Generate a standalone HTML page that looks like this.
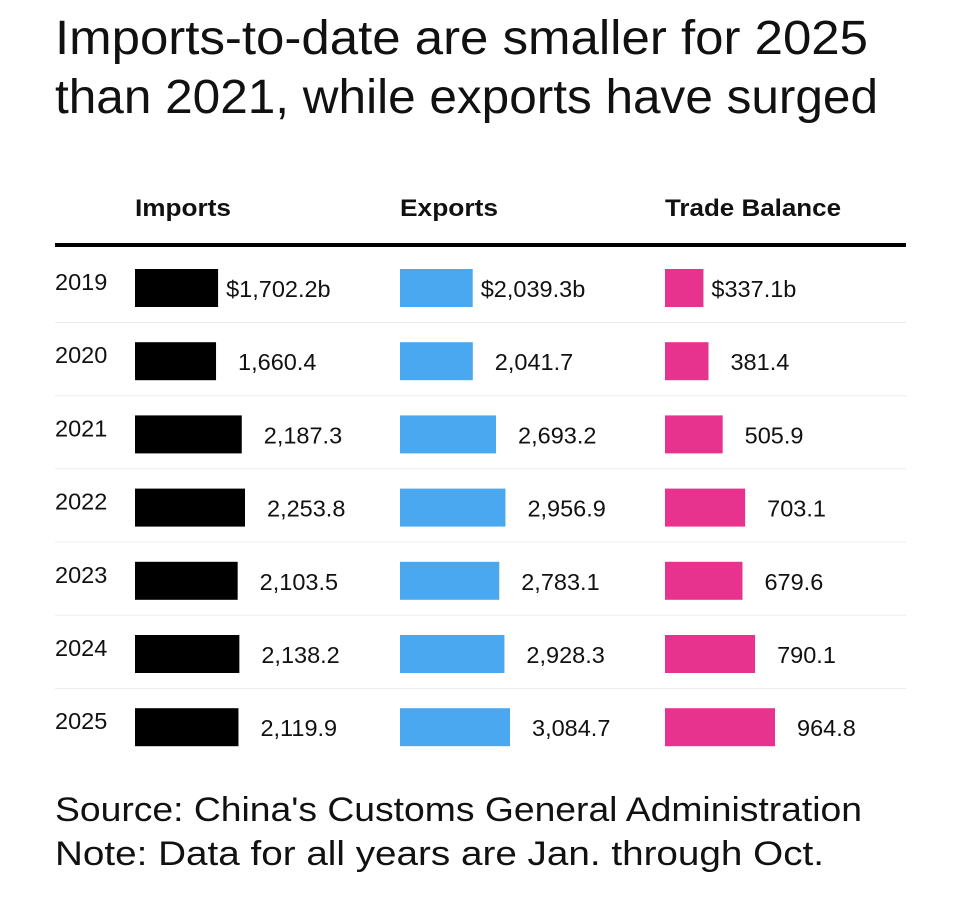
<!DOCTYPE html>
<html><head><meta charset="utf-8">
<style>
html,body{margin:0;padding:0;background:#fff;}
body{width:960px;height:892px;overflow:hidden;font-family:"Liberation Sans",Arial,sans-serif;}
</style></head>
<body>
<svg id="chart" width="960" height="892" xmlns="http://www.w3.org/2000/svg" font-family="Liberation Sans, Arial, sans-serif">
<text x="55" y="54" font-size="48" fill="#111" textLength="813" lengthAdjust="spacingAndGlyphs">Imports-to-date are smaller for 2025</text>
<text x="55" y="113" font-size="48" fill="#111" textLength="823" lengthAdjust="spacingAndGlyphs">than 2021, while exports have surged</text>
<text x="135" y="216" font-size="24" font-weight="bold" fill="#111" textLength="96" lengthAdjust="spacingAndGlyphs">Imports</text>
<text x="400" y="216" font-size="24" font-weight="bold" fill="#111" textLength="98" lengthAdjust="spacingAndGlyphs">Exports</text>
<text x="665" y="216" font-size="24" font-weight="bold" fill="#111" textLength="176" lengthAdjust="spacingAndGlyphs">Trade Balance</text>
<rect x="55" y="243" width="851" height="4" fill="#000"/>
<g id="rows"></g>
<text x="55" y="821" font-size="34" fill="#111" textLength="807" lengthAdjust="spacingAndGlyphs">Source: China's Customs General Administration</text>
<text x="55" y="865" font-size="34" fill="#111" textLength="769" lengthAdjust="spacingAndGlyphs">Note: Data for all years are Jan. through Oct.</text>
</svg>
<script>
const years = ["2019","2020","2021","2022","2023","2024","2025"];
const imports = [1702.2,1660.4,2187.3,2253.8,2103.5,2138.2,2119.9];
const exportsV = [2039.3,2041.7,2693.2,2956.9,2783.1,2928.3,3084.7];
const balance = [337.1,381.4,505.9,703.1,679.6,790.1,964.8];

const svg = document.getElementById('rows');
const NS = 'http://www.w3.org/2000/svg';
const cols = [
  {name:'imports', vals:imports, x0:135, color:'#000'},
  {name:'exports', vals:exportsV, x0:400, color:'#4aa8f0'},
  {name:'balance', vals:balance, x0:665, color:'#e8338e'}
];
const maxW = 110, rowH = 73.2, top0 = 288;
function fmt(v){return v.toLocaleString('en-US',{minimumFractionDigits:1,maximumFractionDigits:1});}
function mk(tag, attrs){const e=document.createElementNS(NS,tag);for(const k in attrs)e.setAttribute(k,attrs[k]);svg.appendChild(e);return e;}
years.forEach((y,i)=>{
  const cy = top0 + i*rowH;
  const t = mk('text',{x:55,y:cy+2,'font-size':23.5,fill:'#111'});
  
  
  t.textContent = y;
  if(i<years.length-1){
    const l = mk('line',{x1:55,x2:906,y1:cy+34.5,y2:cy+34.5,stroke:'#ececec','stroke-width':1});
    
    
  }
  cols.forEach(c=>{
    const max = Math.max(...c.vals);
    const w = c.vals[i]/max*maxW;
    const r = mk('rect',{x:c.x0,y:cy-19,width:w,height:38,fill:c.color});
    
    
    const tx = mk('text',{x:c.x0+w+22,y:cy+9,'font-size':23.5,fill:'#111'});
    
    
    if(i===0){tx.setAttribute('x',c.x0+w+8);tx.textContent='$'+fmt(c.vals[i])+'b';}
    else tx.textContent = fmt(c.vals[i]);
  });
});
</script>
</body></html>
